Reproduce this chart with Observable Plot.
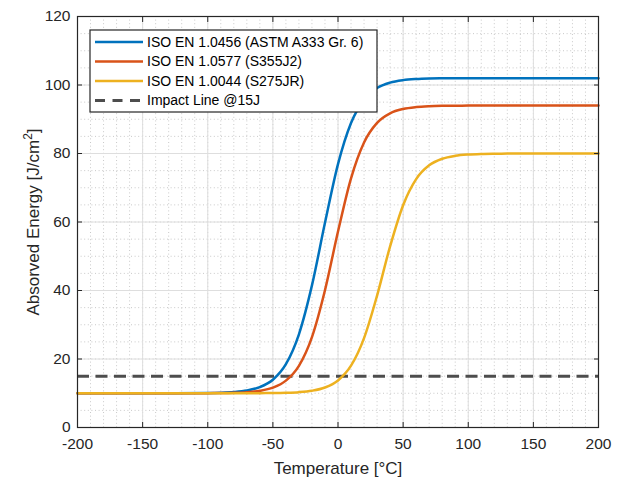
<!DOCTYPE html>
<html>
<head>
<meta charset="utf-8">
<script src="https://cdn.jsdelivr.net/npm/d3@7"></script>
<script src="https://cdn.jsdelivr.net/npm/@observablehq/plot@0.6"></script>
<style>
  body { margin: 0; background: #fff; }
  svg { display: block; }
</style>
</head>
<body>
<div id="chart"></div>
<script>
// Charpy transition curves: absorbed energy vs test temperature
const temperature = [-200, -175, -150, -125, -100, -90, -80, -70, -60, -50, -40, -30, -20, -10, 0, 10, 20, 30, 40, 50, 60, 70, 80, 90, 100, 110, 120, 130, 140, 150, 175, 200];

const energy10456 = [10.0, 10.0, 10.0, 10.01, 10.07, 10.16, 10.36, 10.80, 11.80, 13.96, 18.49, 27.22, 41.49, 59.75, 76.89, 88.90, 95.71, 99.11, 100.70, 101.42, 101.74, 101.89, 101.95, 101.98, 101.99, 102.0, 102.0, 102.0, 102.0, 102.0, 102.0, 102.0];
const energy10577 = [10.0, 10.0, 10.0, 10.0, 10.03, 10.06, 10.14, 10.31, 10.72, 11.64, 13.68, 18.01, 26.39, 40.07, 57.22, 72.76, 83.23, 88.96, 91.73, 93.00, 93.56, 93.81, 93.92, 93.96, 93.98, 93.99, 94.0, 94.0, 94.0, 94.0, 94.0, 94.0];
const energy10044 = [10.0, 10.0, 10.0, 10.0, 10.0, 10.0, 10.0, 10.01, 10.03, 10.06, 10.14, 10.32, 10.74, 11.68, 13.74, 18.04, 26.10, 38.51, 52.89, 64.91, 72.53, 76.55, 78.46, 79.32, 79.70, 79.87, 79.94, 79.97, 79.99, 80.0, 80.0, 80.0];

const seriesNames = ["ISO EN 1.0456 (ASTM A333 Gr. 6)", "ISO EN 1.0577 (S355J2)", "ISO EN 1.0044 (S275JR)"];
const seriesColors = ["#0072BD", "#D95319", "#EDB120"];
const seriesValues = [energy10456, energy10577, energy10044];

const impactEnergy = [15];
const impactLabel = "Impact Line @15J";

const xTicks = [-200, -150, -100, -50, 0, 50, 100, 150, 200];
const yTicks = [0, 20, 40, 60, 80, 100, 120];
const xMinor = d3.range(-200, 201, 10);
const yMinor = d3.range(0, 121, 5);

const xLabel = "Temperature [°C]";
const yLabel = "Absorved Energy [J/cm²]";

// long-format table for the line mark
const rows = temperature.flatMap((t, i) =>
  seriesValues.map((vals, k) => ({temperature: t, energy: vals[i], series: seriesNames[k]}))
);

const font = "'Liberation Sans', Arial, sans-serif";
const ink = "#262626";

const plot = Plot.plot({
  width: 619,
  height: 477,
  marginLeft: 77,
  marginRight: 21,
  marginTop: 16,
  marginBottom: 50,
  style: {fontFamily: font, background: "#fff", color: ink, overflow: "visible"},
  x: {domain: [-200, 200]},
  y: {domain: [0, 120]},
  color: {domain: seriesNames, range: seriesColors},
  marks: [
    // minor grid (dotted)
    Plot.ruleX(xMinor, {stroke: "#c9c9c9", strokeWidth: 1, strokeDasharray: "1,2.6"}),
    Plot.ruleY(yMinor, {stroke: "#c9c9c9", strokeWidth: 1, strokeDasharray: "1,2.6"}),
    // major grid
    Plot.ruleX(xTicks, {stroke: "#dedede", strokeWidth: 1}),
    Plot.ruleY(yTicks, {stroke: "#dedede", strokeWidth: 1}),
    // impact energy reference
    Plot.ruleY(impactEnergy, {stroke: "#4d4d4d", strokeWidth: 3, strokeDasharray: "12,6.5"}),
    // transition curves
    Plot.line(rows, {x: "temperature", y: "energy", z: "series", stroke: "series", strokeWidth: 2.5, curve: "monotone-x"}),
    // box
    Plot.frame({stroke: ink, strokeWidth: 1.2}),
    // inward ticks on all four sides
    Plot.axisX(xTicks, {anchor: "bottom", tickSize: 5, dy: -5, fill: "none", label: null, stroke: ink}),
    Plot.axisX(xTicks, {anchor: "top", tickSize: 5, dy: 5, fill: "none", label: null, stroke: ink}),
    Plot.axisY(yTicks, {anchor: "left", tickSize: 5, dx: 5, fill: "none", label: null, stroke: ink}),
    Plot.axisY(yTicks, {anchor: "right", tickSize: 5, dx: -5, fill: "none", label: null, stroke: ink}),
    // tick labels
    Plot.axisX(xTicks, {anchor: "bottom", tickSize: 0, tickPadding: 10, tickFormat: d => `${d}`, label: null, fontSize: 15.5, fill: ink}),
    Plot.axisY(yTicks, {anchor: "left", tickSize: 0, tickPadding: 7, tickFormat: d => `${d}`, label: null, fontSize: 15.5, fill: ink}),
    // axis titles
    Plot.text([xLabel], {text: d => d, frameAnchor: "bottom", dy: 40.6, textAnchor: "middle", lineAnchor: "middle", fontSize: 17, fill: ink}),
    Plot.text([yLabel], {text: d => d, frameAnchor: "left", dx: -44.4, rotate: -90, textAnchor: "middle", lineAnchor: "middle", fontSize: 17, fill: ink})
  ]
});

document.getElementById("chart").appendChild(plot);

const svg = d3.select(plot);

// superscript for the unit in the y title
svg.selectAll("text").filter(function () { return this.textContent === yLabel; }).each(function () {
  const t = d3.select(this);
  const [before, after] = yLabel.split("²");
  t.text(null);
  t.append("tspan").text(before);
  t.append("tspan").attr("dy", "-7").attr("font-size", "12").text("2");
  t.append("tspan").attr("dy", "7").text(after);
});

// legend box in the upper-left corner of the axes
const legend = svg.append("g")
  .attr("font-family", font)
  .attr("font-size", 14)
  .attr("text-anchor", "start");
legend.append("rect")
  .attr("x", 90).attr("y", 30).attr("width", 287).attr("height", 82)
  .attr("fill", "#fff").attr("stroke", ink).attr("stroke-width", 1.2);

const legendItems = seriesNames.map((name, i) => ({label: name, color: seriesColors[i], dash: null, width: 2.5}))
  .concat([{label: impactLabel, color: "#4d4d4d", dash: "10,7.5", width: 3}]);
const rowY = [42, 61.5, 81, 100.5];

legendItems.forEach((item, i) => {
  legend.append("line")
    .attr("x1", 95).attr("x2", 143).attr("y1", rowY[i]).attr("y2", rowY[i])
    .attr("stroke", item.color).attr("stroke-width", item.width)
    .attr("stroke-dasharray", item.dash);
  legend.append("text")
    .attr("x", 147).attr("y", rowY[i]).attr("dy", "0.35em")
    .attr("text-anchor", "start")
    .attr("fill", "#000").text(item.label);
});
</script>
</body>
</html>
